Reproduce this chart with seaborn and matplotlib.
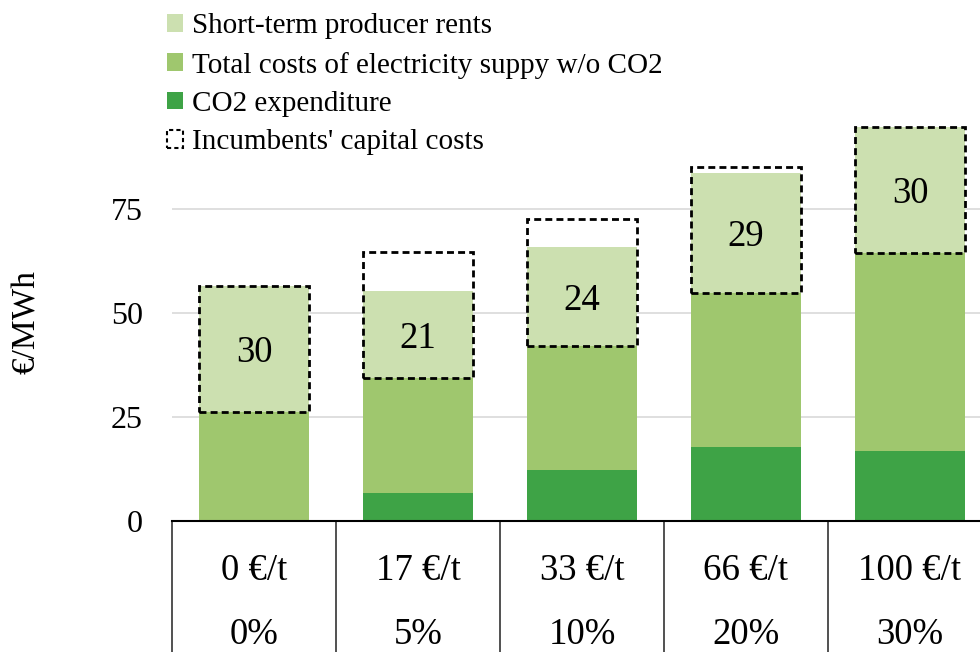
import numpy as np
import pandas as pd
import matplotlib.pyplot as plt
import matplotlib.transforms as mtransforms
from matplotlib.patches import Patch
import seaborn as sns

# Data
categories = ["0 €/t", "17 €/t", "33 €/t", "66 €/t", "100 €/t"]
shares = ["0%", "5%", "10%", "20%", "30%"]
co2_expenditure = [0.0, 6.8, 12.2, 17.9, 16.8]
supply_costs = [26.2, 27.6, 29.9, 36.9, 47.6]
producer_rents = [30.3, 20.9, 23.8, 28.9, 30.3]
capital_costs = [30.3, 30.3, 30.5, 30.3, 30.3]

# Colours
c_light = "#CCE0B0"
c_mid = "#9FC76E"
c_dark = "#3EA346"

sns.set_theme(style="white")
plt.rcParams['font.family'] = ['Liberation Serif', 'DejaVu Serif']
plt.rcParams['text.color'] = 'black'

df = pd.DataFrame({
    "category": categories,
    "co2": co2_expenditure,
    "supply": supply_costs,
    "rents": producer_rents,
    "capital": capital_costs,
})
df["top_supply"] = df["co2"] + df["supply"]
df["top_rents"] = df["top_supply"] + df["rents"]

fig = plt.figure(figsize=(9.8, 6.52), dpi=100)
ax = fig.add_axes([172 / 980, 131 / 652, 820 / 980, 416 / 652])

# stacked bars: draw the cumulative totals from the top down
bar_width = 0.67
sns.barplot(data=df, x="category", y="top_rents", color=c_light, saturation=1,
            width=bar_width, linewidth=0, ax=ax, zorder=2)
sns.barplot(data=df, x="category", y="top_supply", color=c_mid, saturation=1,
            width=bar_width, linewidth=0, ax=ax, zorder=2)
sns.barplot(data=df, x="category", y="co2", color=c_dark, saturation=1,
            width=bar_width, linewidth=0, ax=ax, zorder=2)

# dashed boxes for incumbents' capital costs
xpos = np.arange(len(categories))
ax.bar(xpos, df["capital"], bottom=df["top_supply"], width=bar_width, fill=False,
       edgecolor="black", linewidth=2, linestyle=(0, (2.5, 1.5)), zorder=4)

# rent labels
for i, row in df.iterrows():
    ax.text(i, row["top_supply"] + row["rents"] / 2, f"{round(row['rents'])}",
            ha="center", va="center_baseline", fontsize=26.5, color="black", zorder=5)

ax.set_xlim(-0.5, len(categories) - 0.5)
ax.set_ylim(0, 100)
ax.set_yticks([0, 25, 50, 75])
ax.yaxis.grid(True, color="#D9D9D9", linewidth=1.2)
ax.set_axisbelow(True)
ax.tick_params(axis="y", length=0, pad=21, labelsize=23, labelcolor="black")
ax.tick_params(axis="x", length=0, labelbottom=False)
ax.set_xlabel("")
ax.set_ylabel("€/MWh", fontsize=24, color="black")
ax.yaxis.set_label_coords(-0.1585, 0.478)

for s in ["left", "right", "top"]:
    ax.spines[s].set_visible(False)
ax.spines["bottom"].set_color("black")
ax.spines["bottom"].set_linewidth(1.5)

# table under the axis
trans = mtransforms.blended_transform_factory(ax.transData, ax.transAxes)
ax.vlines(np.arange(len(categories) + 1) - 0.5, -0.4, 0, transform=trans,
          color="#333333", linewidth=1.2, clip_on=False)
for i, (cat, sh) in enumerate(zip(categories, shares)):
    ax.text(i, -0.142, cat, transform=trans, ha="center", va="baseline",
            fontsize=26.5, color="black", clip_on=False)
    ax.text(i, -0.296, sh, transform=trans, ha="center", va="baseline",
            fontsize=26.5, color="black", clip_on=False)

handles = [
    Patch(facecolor=c_light, edgecolor="none", label="Short-term producer rents"),
    Patch(facecolor=c_mid, edgecolor="none", label="Total costs of electricity suppy w/o CO2"),
    Patch(facecolor=c_dark, edgecolor="none", label="CO2 expenditure"),
    Patch(facecolor="none", edgecolor="black", linestyle=(0, (2, 1.5)), linewidth=1.5,
          label="Incumbents' capital costs"),
]
fig.legend(handles=handles, loc="upper left", bbox_to_anchor=(164 / 980, 0.984),
           frameon=False, fontsize=21, handlelength=0.55, handleheight=0.55,
           handletextpad=0.31, labelspacing=0.42, borderpad=0.1, borderaxespad=0,
           labelcolor="black")

fig.savefig("out.png", dpi=100)
